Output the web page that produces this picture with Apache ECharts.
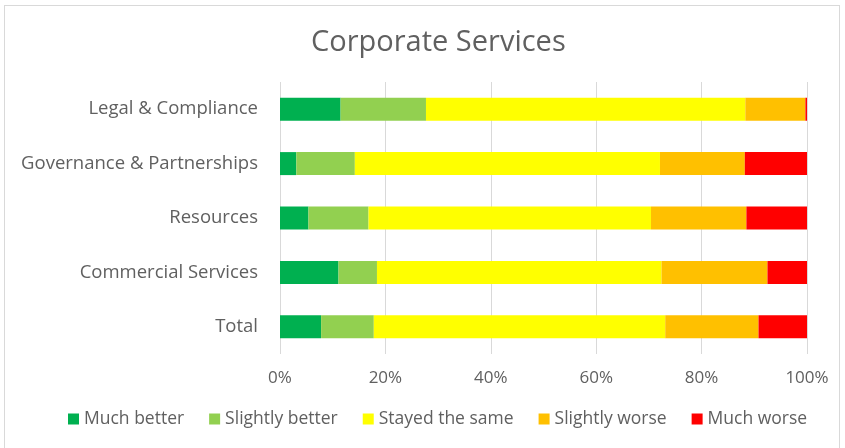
<!DOCTYPE html>
<html>
<head>
<meta charset="utf-8">
<script src="https://cdn.jsdelivr.net/npm/echarts@6/dist/echarts.min.js"></script>
<style>
  html, body { margin: 0; padding: 0; background: #fff; }
  #frame { position: absolute; left: 4px; top: 5px; width: 836px; height: 450px; border: 1px solid #d9d9d9; box-sizing: border-box; }
  #chart { position: absolute; left: 0; top: 0; width: 845px; height: 448px; }
</style>
</head>
<body>
<div id="frame"></div>
<div id="chart"></div>
<script>
// units in the order they appear top to bottom
const units = ['Legal & Compliance', 'Governance & Partnerships', 'Resources', 'Commercial Services', 'Total']

const muchBetter = [11.5, 3.1, 5.4, 11.1, 7.8]
const slightlyBetter = [16.2, 11.1, 11.4, 7.3, 10.0]
const stayedSame = [60.6, 57.9, 53.6, 54.0, 55.3]
const slightlyWorse = [11.4, 16.1, 18.1, 20.1, 17.7]
const muchWorse = [0.3, 11.8, 11.5, 7.5, 9.2]

const seriesDefs = [
  { name: 'Much better', data: muchBetter, color: '#00b050' },
  { name: 'Slightly better', data: slightlyBetter, color: '#92d050' },
  { name: 'Stayed the same', data: stayedSame, color: '#ffff00' },
  { name: 'Slightly worse', data: slightlyWorse, color: '#ffc000' },
  { name: 'Much worse', data: muchWorse, color: '#ff0000' },
]

const font = 'Open Sans'
const textColor = '#606060'
const chart = echarts.init(document.getElementById('chart'), null, { renderer: 'canvas' })

chart.setOption({
  backgroundColor: 'transparent',
  animation: false,
  title: {
    text: 'Corporate Services',
    left: 306,
    top: 23,
    textStyle: { fontFamily: font, fontSize: 29, fontWeight: 'normal', color: textColor },
  },
  legend: {
    bottom: 15,
    left: 63,
    icon: 'rect',
    itemWidth: 11,
    itemHeight: 11,
    itemGap: 25,
    textStyle: { fontFamily: font, fontSize: 17.5, color: textColor },
  },
  grid: { left: 280, right: 38, top: 82, height: 272, containLabel: false },
  xAxis: {
    type: 'value',
    min: 0,
    max: 100,
    interval: 20,
    axisLabel: { formatter: '{value}%', fontFamily: font, fontSize: 17, color: textColor, margin: 16 },
    axisLine: { show: false },
    axisTick: { show: false },
    splitLine: { lineStyle: { color: '#d9d9d9', width: 1 } },
  },
  yAxis: {
    type: 'category',
    data: units,
    inverse: true,
    axisLabel: { fontFamily: font, fontSize: 18.5, color: textColor, margin: 22 },
    axisLine: { show: false },
    axisTick: { show: false },
  },
  series: seriesDefs.map(s => ({
    name: s.name,
    type: 'bar',
    stack: 'total',
    data: s.data,
    barWidth: 23,
    itemStyle: { color: s.color },
  })),
})
</script>
</body>
</html>
